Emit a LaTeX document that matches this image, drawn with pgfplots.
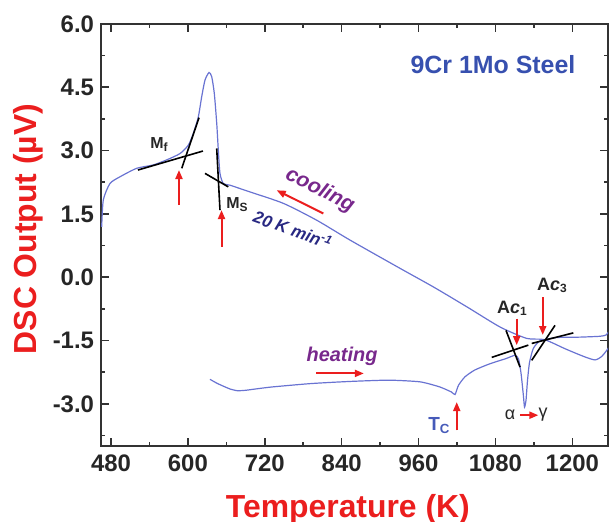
\documentclass[border=0pt]{standalone}
\usepackage{pgfplots}
\pgfplotsset{compat=1.18}
\usepackage{fontspec}
\setmainfont{Liberation Sans}
\usetikzlibrary{arrows.meta}
\definecolor{curve}{RGB}{105,115,210}
\definecolor{arr}{RGB}{235,30,30}
\definecolor{purp}{RGB}{120,40,140}
\definecolor{navy}{RGB}{40,40,130}
\definecolor{steel}{RGB}{55,80,175}
\definecolor{tcblue}{RGB}{70,90,185}
\begin{document}
\begin{tikzpicture}
\useasboundingbox (-50.5bp,-38bp) rectangle (254bp,223bp);
\begin{axis}[
 at={(0,0)}, anchor=south west,
 scale only axis, width=253.5bp, height=211bp,
 xmin=464.4, xmax=1255.7, ymin=-4, ymax=6,
 xtick={480,600,720,840,960,1080,1200},
 minor xtick={540,660,780,900,1020,1140},
 xticklabels={480,600,720,840,960,1080,1200},
 ytick={-3,-1.5,0,1.5,3,4.5,6},
 minor ytick={-3.75,-2.25,-0.75,0.75,2.25,3.75,5.25},
 yticklabels={-3.0,-1.5,0.0,1.5,3.0,4.5,6.0},
 tick align=inside,
 major tick length=4bp, minor tick length=2bp,
 axis line style={line width=1bp, color=black!80},
 every tick/.style={line width=0.8bp, black!80},
 ticklabel style={font=\fontsize{12}{14}\selectfont\bfseries, text=black!85},
 xticklabel style={yshift=-1bp},
 xlabel={Temperature (K)}, ylabel={DSC Output (µV)},
 label style={font=\fontsize{16}{19}\selectfont\bfseries, text=arr},
 xlabel style={at={(axis description cs:0.487,0)}, anchor=base, yshift=-35.5bp},
 ylabel style={at={(axis description cs:-0.144,0.514)}, anchor=center},
]
% cooling curve
\addplot[curve, line width=0.6bp, smooth, tension=0.4] coordinates {
(465.5,1.19) (468.0,1.83) (478.4,2.22) (494.1,2.38) (520.1,2.58) (546.0,2.66)
(566.9,2.78) (587.7,2.93) (600.7,3.13) (608.5,3.41) (616.3,3.80) (621.6,4.28)
(626.7,4.67) (633.0,4.85) (637.2,4.75) (641.2,4.36) (645.0,3.65) (647.5,3.01)
(650.1,2.46) (655.3,2.22) (665.7,2.18) (697.0,2.02) (749.0,1.75) (801.1,1.35)
(853.0,0.88) (931.1,0.21) (983.1,-0.23) (1035.2,-0.70) (1087.2,-1.18)
(1128.8,-1.45) (1156.6,-1.48) (1189.4,-1.70) (1218.1,-1.88) (1235.5,-1.96)
(1246.4,-1.87) (1257.3,-1.66)};
% heating curve
\addplot[curve, line width=0.6bp, smooth, tension=0.35] coordinates {
(634.5,-2.42) (645.0,-2.51) (655.0,-2.58) (666.0,-2.65) (677.3,-2.69)
(690.0,-2.68) (705.0,-2.65) (731.9,-2.60)
(792.6,-2.52) (853.3,-2.47) (913.9,-2.44) (962.6,-2.48) (993.0,-2.60)
(1011.3,-2.72) (1016.9,-2.78) (1022.4,-2.56) (1032.5,-2.36) (1047.7,-2.20)
(1071.6,-2.05) (1096.2,-1.93) (1110.6,-1.85) (1116.1,-1.94) (1120.0,-2.28)
(1123.6,-2.80) (1125.4,-3.08) (1127.7,-2.92) (1130.1,-2.44) (1133.2,-2.02)
(1139.1,-1.69) (1149.6,-1.51) (1175.6,-1.43) (1212.0,-1.42) (1243.2,-1.40)
(1252.6,-1.37) (1257.3,-1.28)};
% tangent lines
\addplot[black, line width=0.8bp] coordinates {(522.1,2.54) (623.6,2.99)};
\addplot[black, line width=0.8bp] coordinates {(590.4,2.58) (617.4,3.78)};
\addplot[black, line width=0.8bp] coordinates {(645.0,3.05) (650.1,1.59)};
\addplot[black, line width=0.8bp] coordinates {(626.7,2.46) (663.1,2.14)};
\addplot[black, line width=0.8bp] coordinates {(1096.5,-1.26) (1118.4,-2.13)};
\addplot[black, line width=0.8bp] coordinates {(1074.2,-1.90) (1131.3,-1.61)};
\addplot[black, line width=0.8bp] coordinates {(1136.6,-1.97) (1173.0,-1.14)};
\addplot[black, line width=0.8bp] coordinates {(1136.6,-1.57) (1201.6,-1.32)};
% red arrows
\begin{scope}[arr, line width=1bp, -{Triangle[length=4.5bp,width=3.5bp]}]
\draw (axis cs:586.1,1.71) -- (axis cs:586.1,2.54);
\draw (axis cs:652.5,0.72) -- (axis cs:652.5,1.59);
\draw (axis cs:811.4,1.51) -- (axis cs:738.6,2.06);
\draw (axis cs:800.0,-2.28) -- (axis cs:874.6,-2.28);
\draw (axis cs:1019.6,-3.63) -- (axis cs:1019.6,-2.96);
\draw (axis cs:1113.2,-0.98) -- (axis cs:1113.2,-1.61);
\draw (axis cs:1153.8,-0.47) -- (axis cs:1153.8,-1.37);
\draw (axis cs:1118.4,-3.27) -- (axis cs:1147.0,-3.27);
\end{scope}
% labels
\node[text=steel, font=\fontsize{12.5}{15}\selectfont\bfseries] at (axis cs:1076.2,5.03) {9Cr 1Mo Steel};
\node[anchor=base west, inner sep=0, text=black!85, font=\fontsize{8}{10}\selectfont\bfseries] at (axis cs:540.9,3.05) {M\textsubscript{f}};
\node[anchor=base west, inner sep=0, text=black!85, font=\fontsize{8}{10}\selectfont\bfseries] at (axis cs:659.5,1.63) {M\textsubscript{S}};
\node[rotate=-27, inner sep=0, text=purp, font=\fontsize{10.5}{12}\selectfont\bfseries\itshape] at (axis cs:806,2.06) {cooling};
\node[rotate=-20, inner sep=0, text=navy, font=\fontsize{8.5}{10}\selectfont\bfseries\itshape] at (axis cs:764.1,1.13) {20 K min\textsuperscript{-1}};
\node[text=purp, font=\fontsize{10}{12}\selectfont\bfseries\itshape] at (axis cs:840.6,-1.87) {heating};
\node[anchor=base west, inner sep=0, text=tcblue, font=\fontsize{9.5}{11}\selectfont\bfseries] at (axis cs:974.8,-3.63) {T\textsubscript{C}};
\node[anchor=base west, inner sep=0, text=black!85, font=\fontsize{9}{11}\selectfont\bfseries] at (axis cs:1082.0,-0.86) {A\textit{c}\textsubscript{1}};
\node[anchor=base west, inner sep=0, text=black!85, font=\fontsize{9}{11}\selectfont\bfseries] at (axis cs:1144.4,-0.31) {A\textit{c}\textsubscript{3}};
\node[inner sep=0, text=black!85, font=\fontsize{9}{10}\selectfont] at (axis cs:1102.8,-3.26) {α};
\node[inner sep=0, text=black!85, font=\fontsize{9}{10}\selectfont] at (axis cs:1154.3,-3.26) {γ};
\end{axis}
\end{tikzpicture}
\end{document}
